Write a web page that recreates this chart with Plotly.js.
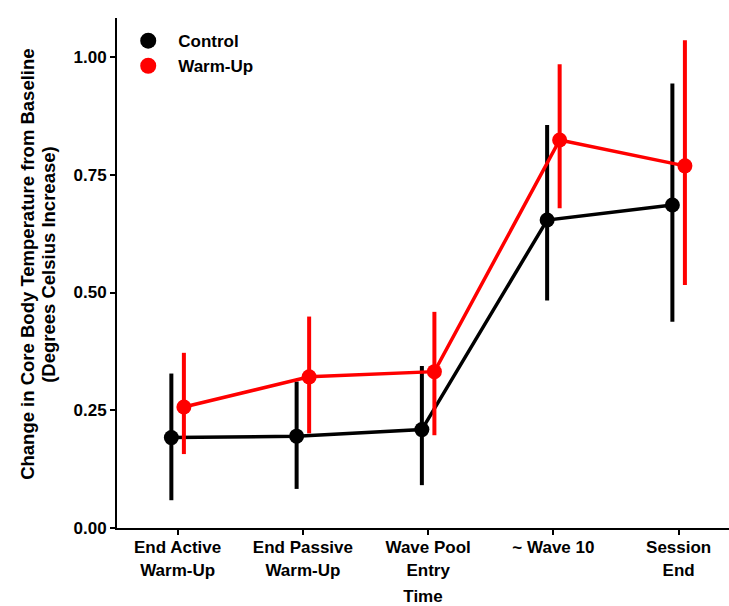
<!DOCTYPE html>
<html>
<head>
<meta charset="utf-8">
<script src="https://cdn.plot.ly/plotly-3.0.1.min.js"></script>
<style>html,body{margin:0;padding:0;background:#fff;}#chart{width:729px;height:606px;}</style>
</head>
<body>
<div id="chart"></div>
<script>
const categories = ["End Active<br>Warm-Up", "End Passive<br>Warm-Up", "Wave Pool<br>Entry", "~ Wave 10", "Session<br>End"];
const controlMean = [0.192, 0.195, 0.209, 0.654, 0.686];
const controlLow  = [0.059, 0.083, 0.091, 0.483, 0.438];
const controlHigh = [0.328, 0.311, 0.344, 0.856, 0.944];
const warmMean = [0.257, 0.321, 0.332, 0.824, 0.769];
const warmLow  = [0.157, 0.201, 0.197, 0.679, 0.516];
const warmHigh = [0.372, 0.449, 0.459, 0.985, 1.036];
const yTitleLines = ["Change in Core Body Temperature from Baseline", "(Degrees Celsius Increase)"];

const dodge = 0.05;
const idx = categories.map((_, i) => i);
const font = {family: "Liberation Sans, Arial, sans-serif", size: 17, color: "#000", weight: 700};
const titleFont = Object.assign({}, font, {size: 18.5});

function series(name, mean, low, high, color, shift, lw) {
  return {
    type: "scatter", mode: "lines+markers", name: name, showlegend: false,
    x: idx.map(i => i + shift), y: mean,
    line: {color: color, width: lw},
    marker: {color: color, size: 15},
    error_y: {type: "data", symmetric: false,
      array: high.map((h, i) => h - mean[i]),
      arrayminus: low.map((l, i) => mean[i] - l),
      color: color, thickness: 4, width: 0}
  };
}
function legendTrace(name, color) {
  return {type: "scatter", mode: "markers", name: name, x: [null], y: [null],
    marker: {color: color, size: 16}, showlegend: true};
}

const data = [
  series("Control", controlMean, controlLow, controlHigh, "#000000", -dodge, 3.5),
  series("Warm-Up", warmMean, warmLow, warmHigh, "#ff0000", dodge, 3.5),
  legendTrace("Control", "#000000"),
  legendTrace("Warm-Up", "#ff0000")
];

const layout = {
  width: 729, height: 606,
  margin: {l: 117, r: 0, t: 18, b: 78},
  paper_bgcolor: "#fff", plot_bgcolor: "#fff",
  font: font,
  showlegend: true,
  legend: {x: 0.002, y: 0.99, xanchor: "left", yanchor: "top", bgcolor: "rgba(0,0,0,0)",
    font: font, itemwidth: 50, tracegroupgap: 0},
  xaxis: {
    range: [-0.484, 4.402], tickmode: "array", tickvals: idx, ticktext: categories,
    showgrid: false, zeroline: false, showline: true, linecolor: "#000", linewidth: 2,
    ticks: "outside", ticklen: 5, tickwidth: 2, tickcolor: "#000",
    tickfont: font, ticklabelstandoff: -2,
    title: {text: "Time", font: font, standoff: 14}
  },
  yaxis: {
    range: [0, 1.083], tickvals: [0, 0.25, 0.5, 0.75, 1.0],
    ticktext: ["0.00", "0.25", "0.50", "0.75", "1.00"],
    showgrid: false, zeroline: false, showline: true, linecolor: "#000", linewidth: 2,
    ticks: "outside", ticklen: 5, tickwidth: 2, tickcolor: "#000",
    tickfont: font
  },
  annotations: [
    {text: yTitleLines[0], xref: "paper", yref: "paper", x: -0.1454, y: 0.516,
     xanchor: "center", yanchor: "middle", textangle: -90, showarrow: false, font: titleFont},
    {text: yTitleLines[1], xref: "paper", yref: "paper", x: -0.1111, y: 0.516,
     xanchor: "center", yanchor: "middle", textangle: -90, showarrow: false, font: titleFont}
  ]
};

Plotly.newPlot("chart", data, layout, {displayModeBar: false, staticPlot: true});
</script>
</body>
</html>
